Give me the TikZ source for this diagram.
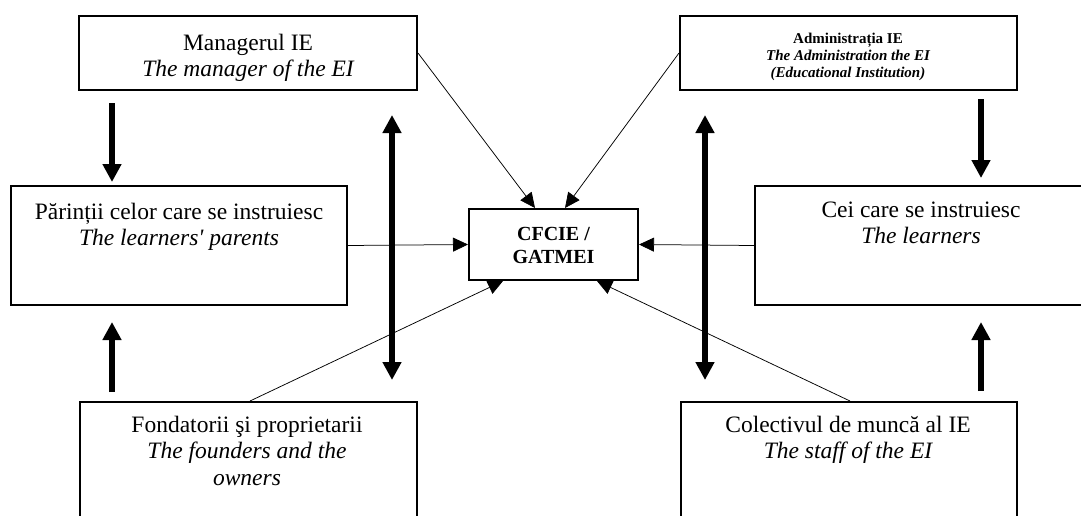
\documentclass[tikz,border=0pt]{standalone}
\usepackage{fontspec}
\setmainfont{Liberation Serif}
\usetikzlibrary{arrows.meta,calc}
\begin{document}
\begin{tikzpicture}[x=1pt,y=-1pt,
  box/.style={draw, line width=2pt, rectangle, inner sep=0pt},
  lbl/.style={anchor=base, inner sep=0pt, font=\fontsize{23.5}{27}\selectfont},
  ilbl/.style={lbl, font=\fontsize{23.5}{27}\selectfont\itshape},
  slbl/.style={anchor=base, inner sep=0pt, font=\fontsize{15}{17}\selectfont\bfseries},
  silbl/.style={slbl, font=\fontsize{15}{17}\selectfont\bfseries\itshape},
  clbl/.style={anchor=base, inner sep=0pt, font=\fontsize{20}{23}\selectfont\bfseries},
  thinarrow/.style={line width=0.75pt, -{Triangle[length=15pt,width=14pt]}},
  bigarrow/.style={line width=6pt, -{Triangle[length=18pt,width=18pt]}},
  dblarrow/.style={line width=6pt, {Triangle[length=18pt,width=18pt]}-{Triangle[length=18pt,width=18pt]}}
]
\useasboundingbox (0,0) rectangle (1081,515);
\clip (0,0) rectangle (1081,515);

% boxes
\node[box, minimum width=338pt, minimum height=74pt] (mgr) at (248,53) {};
\node[box, minimum width=337pt, minimum height=74pt] (adm) at (848.5,53) {};
\node[box, minimum width=336pt, minimum height=119pt] (par) at (179,245.5) {};
\node[box, minimum width=336pt, minimum height=119pt] (cei) at (923,245.5) {};
\node[box, minimum width=169pt, minimum height=71pt] (cf) at (553.5,244.5) {};
\node[box, minimum width=337pt, minimum height=140pt] (fnd) at (248.5,472) {};
\node[box, minimum width=336pt, minimum height=140pt] (stf) at (849,472) {};

% texts
\node[lbl] (mgrA) at (248,50) {Managerul IE};
\node[ilbl] (mgrB) at (248,76) {The manager of the EI};
\node[slbl] (admA) at (848,43) {Administrația IE};
\node[silbl] (admB) at (848,60) {The Administration the EI};
\node[silbl] (admC) at (848,77) {(Educational Institution)};
\node[lbl] (parA) at (179,219) {Părinții celor care se instruiesc};
\node[ilbl] (parB) at (179,245) {The learners\textquotesingle\ parents};
\node[lbl] (ceiA) at (921,217) {Cei care se instruiesc};
\node[ilbl] (ceiB) at (921,243) {The learners};
\node[clbl] (cfA) at (553.5,240) {CFCIE /};
\node[clbl] (cfB) at (553.5,263) {GATMEI};
\node[lbl] (fndA) at (247,432) {Fondatorii şi proprietarii};
\node[ilbl] (fndB) at (247,458) {The founders and the};
\node[ilbl] (fndC) at (247,485) {owners};
\node[lbl] (stfA) at (848,432) {Colectivul de muncă al IE};
\node[ilbl] (stfB) at (848,458) {The staff of the EI};

% helper x positions
\coordinate (xa) at (535,0);
\coordinate (xb) at (565,0);
\coordinate (xc) at (503,0);
\coordinate (xd) at (597,0);
\coordinate (xe) at (250,0);
\coordinate (xf) at (850,0);
\coordinate (xg) at (112,0);
\coordinate (xh) at (981,0);

% thin arrows to CFCIE
\draw[thinarrow] (mgr.east) -- (cf.north -| xa);
\draw[thinarrow] (adm.west) -- (cf.north -| xb);
\draw[thinarrow] (par.east) -- (cf.west);
\draw[thinarrow] (cei.west) -- (cf.east);
\draw[thinarrow] (fnd.north -| xe) -- (cf.south -| xc);
\draw[thinarrow] (stf.north -| xf) -- (cf.south -| xd);

% thick arrows
\draw[bigarrow, shorten <=12pt, shorten >=3pt] (mgr.south -| xg) -- (par.north -| xg);
\draw[bigarrow, shorten <=9pt, shorten >=16pt] (fnd.north -| xg) -- (par.south -| xg);
\draw[bigarrow, shorten <=8pt, shorten >=7pt] (adm.south -| xh) -- (cei.north -| xh);
\draw[bigarrow, shorten <=10pt, shorten >=16pt] (stf.north -| xh) -- (cei.south -| xh);

% double arrows
\coordinate (d1t) at (392,115);
\coordinate (d1b) at (392,380);
\coordinate (d2t) at (705,115);
\coordinate (d2b) at (705,380);
\draw[dblarrow] (d1t) -- (d1b);
\draw[dblarrow] (d2t) -- (d2b);
\end{tikzpicture}
\end{document}
